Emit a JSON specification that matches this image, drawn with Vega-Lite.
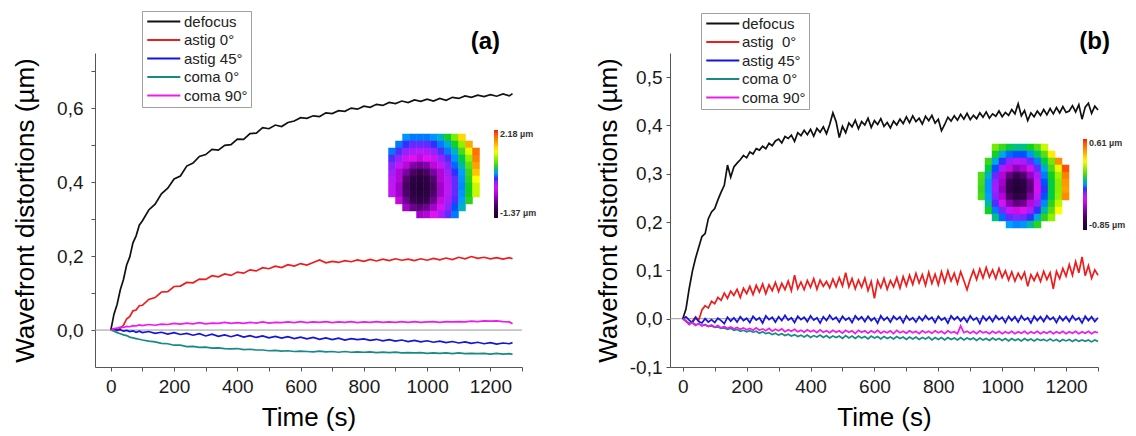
{
"$schema": "https://vega.github.io/schema/vega-lite/v6.json",
"padding": {"left": 12, "top": 10, "right": 2, "bottom": 4},
"spacing": 148,
"bounds": "flush",
"resolve": {"scale": {"stroke": "independent", "fill": "independent"}, "legend": {"stroke": "independent", "fill": "independent"}},
"config": {
  "view": {"stroke": null},
  "font": "Liberation Sans",
  "axis": {"grid": false, "tickSize": 4, "labelFontSize": 19, "titleFontSize": 26, "titleFontWeight": "normal", "labelColor": "#1a1a1a", "titleColor": "#000000", "domainColor": "#555555", "tickColor": "#555555", "labelFont": "Liberation Sans", "titleFont": "Liberation Sans", "labelFlush": false, "labelOverlap": false}
},
"datasets": {
"a": [
{"t":0,"d":0,"a0":0,"a45":0,"c0":0,"c90":0},
{"t":10,"d":0.043,"a0":0.002,"a45":0.003,"c0":-0.003,"c90":0.004},
{"t":20,"d":0.070,"a0":-0.002,"a45":0.000,"c0":-0.007,"c90":0.005},
{"t":30,"d":0.109,"a0":0.005,"a45":0.001,"c0":-0.010,"c90":0.008},
{"t":40,"d":0.137,"a0":0.013,"a45":-0.003,"c0":-0.013,"c90":0.007},
{"t":50,"d":0.176,"a0":0.030,"a45":-0.001,"c0":-0.015,"c90":0.010},
{"t":60,"d":0.198,"a0":0.037,"a45":-0.004,"c0":-0.019,"c90":0.009},
{"t":70,"d":0.236,"a0":0.052,"a45":-0.002,"c0":-0.021,"c90":0.012},
{"t":80,"d":0.255,"a0":0.054,"a45":-0.006,"c0":-0.023,"c90":0.011},
{"t":90,"d":0.284,"a0":0.066,"a45":-0.003,"c0":-0.025,"c90":0.014},
{"t":100,"d":0.296,"a0":0.067,"a45":-0.007,"c0":-0.027,"c90":0.012},
{"t":120,"d":0.325,"a0":0.083,"a45":-0.004,"c0":-0.030,"c90":0.015},
{"t":140,"d":0.341,"a0":0.088,"a45":-0.009,"c0":-0.032,"c90":0.013},
{"t":160,"d":0.369,"a0":0.103,"a45":-0.006,"c0":-0.036,"c90":0.016},
{"t":180,"d":0.384,"a0":0.104,"a45":-0.011,"c0":-0.037,"c90":0.015},
{"t":200,"d":0.409,"a0":0.118,"a45":-0.007,"c0":-0.041,"c90":0.018},
{"t":220,"d":0.417,"a0":0.119,"a45":-0.012,"c0":-0.041,"c90":0.016},
{"t":240,"d":0.444,"a0":0.129,"a45":-0.009,"c0":-0.045,"c90":0.019},
{"t":260,"d":0.452,"a0":0.128,"a45":-0.014,"c0":-0.044,"c90":0.017},
{"t":280,"d":0.470,"a0":0.138,"a45":-0.010,"c0":-0.047,"c90":0.020},
{"t":300,"d":0.475,"a0":0.137,"a45":-0.016,"c0":-0.046,"c90":0.017},
{"t":320,"d":0.489,"a0":0.147,"a45":-0.011,"c0":-0.049,"c90":0.019},
{"t":340,"d":0.487,"a0":0.144,"a45":-0.017,"c0":-0.048,"c90":0.018},
{"t":360,"d":0.500,"a0":0.152,"a45":-0.013,"c0":-0.050,"c90":0.021},
{"t":380,"d":0.502,"a0":0.148,"a45":-0.018,"c0":-0.051,"c90":0.018},
{"t":400,"d":0.517,"a0":0.157,"a45":-0.013,"c0":-0.050,"c90":0.020},
{"t":420,"d":0.516,"a0":0.154,"a45":-0.019,"c0":-0.053,"c90":0.018},
{"t":440,"d":0.532,"a0":0.163,"a45":-0.015,"c0":-0.052,"c90":0.021},
{"t":460,"d":0.533,"a0":0.160,"a45":-0.020,"c0":-0.054,"c90":0.019},
{"t":480,"d":0.548,"a0":0.169,"a45":-0.016,"c0":-0.054,"c90":0.022},
{"t":500,"d":0.545,"a0":0.166,"a45":-0.021,"c0":-0.056,"c90":0.019},
{"t":520,"d":0.555,"a0":0.173,"a45":-0.017,"c0":-0.055,"c90":0.021},
{"t":540,"d":0.551,"a0":0.169,"a45":-0.022,"c0":-0.057,"c90":0.020},
{"t":560,"d":0.562,"a0":0.177,"a45":-0.018,"c0":-0.056,"c90":0.022},
{"t":580,"d":0.566,"a0":0.173,"a45":-0.023,"c0":-0.058,"c90":0.020},
{"t":600,"d":0.575,"a0":0.180,"a45":-0.019,"c0":-0.057,"c90":0.023},
{"t":620,"d":0.573,"a0":0.176,"a45":-0.024,"c0":-0.058,"c90":0.020},
{"t":640,"d":0.580,"a0":0.183,"a45":-0.020,"c0":-0.059,"c90":0.022},
{"t":660,"d":0.578,"a0":0.190,"a45":-0.025,"c0":-0.057,"c90":0.021},
{"t":680,"d":0.588,"a0":0.182,"a45":-0.021,"c0":-0.059,"c90":0.023},
{"t":700,"d":0.586,"a0":0.186,"a45":-0.026,"c0":-0.058,"c90":0.020},
{"t":720,"d":0.594,"a0":0.183,"a45":-0.022,"c0":-0.060,"c90":0.022},
{"t":740,"d":0.592,"a0":0.188,"a45":-0.027,"c0":-0.058,"c90":0.021},
{"t":760,"d":0.601,"a0":0.185,"a45":-0.023,"c0":-0.060,"c90":0.023},
{"t":780,"d":0.598,"a0":0.190,"a45":-0.026,"c0":-0.059,"c90":0.020},
{"t":800,"d":0.606,"a0":0.186,"a45":-0.024,"c0":-0.060,"c90":0.022},
{"t":820,"d":0.603,"a0":0.191,"a45":-0.028,"c0":-0.059,"c90":0.021},
{"t":840,"d":0.611,"a0":0.187,"a45":-0.025,"c0":-0.061,"c90":0.023},
{"t":860,"d":0.608,"a0":0.192,"a45":-0.029,"c0":-0.060,"c90":0.021},
{"t":880,"d":0.616,"a0":0.188,"a45":-0.026,"c0":-0.061,"c90":0.022},
{"t":900,"d":0.613,"a0":0.193,"a45":-0.030,"c0":-0.060,"c90":0.021},
{"t":920,"d":0.620,"a0":0.189,"a45":-0.027,"c0":-0.062,"c90":0.023},
{"t":940,"d":0.616,"a0":0.192,"a45":-0.031,"c0":-0.061,"c90":0.021},
{"t":960,"d":0.623,"a0":0.188,"a45":-0.028,"c0":-0.062,"c90":0.023},
{"t":980,"d":0.619,"a0":0.193,"a45":-0.032,"c0":-0.061,"c90":0.021},
{"t":1000,"d":0.625,"a0":0.189,"a45":-0.029,"c0":-0.063,"c90":0.022},
{"t":1020,"d":0.620,"a0":0.194,"a45":-0.033,"c0":-0.062,"c90":0.023},
{"t":1040,"d":0.627,"a0":0.190,"a45":-0.030,"c0":-0.063,"c90":0.021},
{"t":1060,"d":0.622,"a0":0.195,"a45":-0.034,"c0":-0.062,"c90":0.023},
{"t":1080,"d":0.630,"a0":0.191,"a45":-0.031,"c0":-0.064,"c90":0.022},
{"t":1100,"d":0.627,"a0":0.197,"a45":-0.035,"c0":-0.062,"c90":0.023},
{"t":1120,"d":0.634,"a0":0.193,"a45":-0.032,"c0":-0.064,"c90":0.022},
{"t":1140,"d":0.630,"a0":0.199,"a45":-0.036,"c0":-0.063,"c90":0.024},
{"t":1160,"d":0.636,"a0":0.194,"a45":-0.033,"c0":-0.064,"c90":0.023},
{"t":1180,"d":0.632,"a0":0.197,"a45":-0.037,"c0":-0.063,"c90":0.025},
{"t":1200,"d":0.637,"a0":0.193,"a45":-0.034,"c0":-0.065,"c90":0.024},
{"t":1220,"d":0.633,"a0":0.196,"a45":-0.038,"c0":-0.063,"c90":0.025},
{"t":1240,"d":0.639,"a0":0.192,"a45":-0.035,"c0":-0.065,"c90":0.023},
{"t":1260,"d":0.634,"a0":0.196,"a45":-0.037,"c0":-0.064,"c90":0.022},
{"t":1270,"d":0.640,"a0":0.193,"a45":-0.034,"c0":-0.066,"c90":0.017}
],
"b": [
{"t":0,"d":0,"a0":0,"a45":0,"c0":0,"c90":0},
{"t":10,"d":0.020,"a0":-0.004,"a45":0.004,"c0":-0.005,"c90":-0.006},
{"t":20,"d":0.062,"a0":-0.012,"a45":-0.003,"c0":-0.009,"c90":-0.011},
{"t":30,"d":0.098,"a0":-0.006,"a45":-0.008,"c0":-0.008,"c90":-0.009},
{"t":40,"d":0.125,"a0":0.004,"a45":0.002,"c0":-0.012,"c90":-0.014},
{"t":50,"d":0.148,"a0":-0.003,"a45":-0.006,"c0":-0.011,"c90":-0.010},
{"t":60,"d":0.170,"a0":0.018,"a45":-0.009,"c0":-0.014,"c90":-0.015},
{"t":70,"d":0.176,"a0":0.027,"a45":0.000,"c0":-0.013,"c90":-0.012},
{"t":80,"d":0.207,"a0":0.022,"a45":-0.007,"c0":-0.016,"c90":-0.016},
{"t":90,"d":0.221,"a0":0.036,"a45":-0.002,"c0":-0.015,"c90":-0.013},
{"t":100,"d":0.228,"a0":0.031,"a45":-0.008,"c0":-0.018,"c90":-0.017},
{"t":110,"d":0.246,"a0":0.044,"a45":0.001,"c0":-0.017,"c90":-0.014},
{"t":120,"d":0.262,"a0":0.038,"a45":-0.004,"c0":-0.020,"c90":-0.019},
{"t":130,"d":0.276,"a0":0.053,"a45":-0.010,"c0":-0.019,"c90":-0.016},
{"t":140,"d":0.318,"a0":0.042,"a45":0.003,"c0":-0.022,"c90":-0.020},
{"t":150,"d":0.293,"a0":0.057,"a45":-0.005,"c0":-0.020,"c90":-0.017},
{"t":160,"d":0.314,"a0":0.048,"a45":0.002,"c0":-0.024,"c90":-0.021},
{"t":170,"d":0.322,"a0":0.061,"a45":-0.007,"c0":-0.022,"c90":-0.018},
{"t":180,"d":0.329,"a0":0.044,"a45":0.004,"c0":-0.026,"c90":-0.022},
{"t":190,"d":0.338,"a0":0.063,"a45":-0.004,"c0":-0.024,"c90":-0.019},
{"t":200,"d":0.333,"a0":0.052,"a45":0.001,"c0":-0.027,"c90":-0.023},
{"t":210,"d":0.345,"a0":0.067,"a45":-0.008,"c0":-0.025,"c90":-0.020},
{"t":220,"d":0.341,"a0":0.050,"a45":0.005,"c0":-0.028,"c90":-0.024},
{"t":230,"d":0.352,"a0":0.069,"a45":-0.003,"c0":-0.026,"c90":-0.019},
{"t":240,"d":0.349,"a0":0.055,"a45":0.002,"c0":-0.030,"c90":-0.024},
{"t":250,"d":0.357,"a0":0.072,"a45":-0.009,"c0":-0.027,"c90":-0.021},
{"t":260,"d":0.352,"a0":0.052,"a45":0.006,"c0":-0.031,"c90":-0.025},
{"t":270,"d":0.363,"a0":0.070,"a45":-0.002,"c0":-0.029,"c90":-0.020},
{"t":280,"d":0.358,"a0":0.058,"a45":0.003,"c0":-0.033,"c90":-0.026},
{"t":290,"d":0.368,"a0":0.075,"a45":-0.007,"c0":-0.030,"c90":-0.022},
{"t":300,"d":0.372,"a0":0.056,"a45":0.004,"c0":-0.034,"c90":-0.025},
{"t":310,"d":0.364,"a0":0.073,"a45":-0.004,"c0":-0.031,"c90":-0.021},
{"t":320,"d":0.377,"a0":0.060,"a45":0.007,"c0":-0.035,"c90":-0.027},
{"t":330,"d":0.373,"a0":0.078,"a45":-0.003,"c0":-0.032,"c90":-0.023},
{"t":340,"d":0.380,"a0":0.058,"a45":0.002,"c0":-0.036,"c90":-0.026},
{"t":350,"d":0.367,"a0":0.090,"a45":-0.008,"c0":-0.033,"c90":-0.022},
{"t":360,"d":0.385,"a0":0.062,"a45":0.005,"c0":-0.037,"c90":-0.027},
{"t":370,"d":0.379,"a0":0.076,"a45":-0.002,"c0":-0.034,"c90":-0.024},
{"t":380,"d":0.390,"a0":0.060,"a45":0.003,"c0":-0.038,"c90":-0.028},
{"t":390,"d":0.381,"a0":0.079,"a45":-0.006,"c0":-0.034,"c90":-0.023},
{"t":400,"d":0.392,"a0":0.065,"a45":0.006,"c0":-0.039,"c90":-0.027},
{"t":410,"d":0.378,"a0":0.083,"a45":-0.003,"c0":-0.035,"c90":-0.024},
{"t":420,"d":0.394,"a0":0.061,"a45":0.002,"c0":-0.038,"c90":-0.029},
{"t":430,"d":0.386,"a0":0.080,"a45":-0.009,"c0":-0.034,"c90":-0.023},
{"t":440,"d":0.397,"a0":0.067,"a45":0.004,"c0":-0.039,"c90":-0.028},
{"t":450,"d":0.383,"a0":0.077,"a45":-0.004,"c0":-0.035,"c90":-0.025},
{"t":460,"d":0.402,"a0":0.064,"a45":0.007,"c0":-0.040,"c90":-0.029},
{"t":470,"d":0.426,"a0":0.082,"a45":-0.002,"c0":-0.036,"c90":-0.024},
{"t":480,"d":0.408,"a0":0.066,"a45":0.003,"c0":-0.039,"c90":-0.028},
{"t":490,"d":0.375,"a0":0.085,"a45":-0.007,"c0":-0.036,"c90":-0.025},
{"t":500,"d":0.398,"a0":0.068,"a45":0.005,"c0":-0.041,"c90":-0.030},
{"t":510,"d":0.385,"a0":0.095,"a45":-0.003,"c0":-0.035,"c90":-0.024},
{"t":520,"d":0.405,"a0":0.066,"a45":0.002,"c0":-0.040,"c90":-0.028},
{"t":530,"d":0.397,"a0":0.083,"a45":-0.008,"c0":-0.036,"c90":-0.025},
{"t":540,"d":0.411,"a0":0.062,"a45":0.006,"c0":-0.041,"c90":-0.031},
{"t":550,"d":0.393,"a0":0.080,"a45":-0.002,"c0":-0.036,"c90":-0.024},
{"t":560,"d":0.408,"a0":0.065,"a45":0.004,"c0":-0.040,"c90":-0.028},
{"t":570,"d":0.401,"a0":0.084,"a45":-0.006,"c0":-0.037,"c90":-0.025},
{"t":580,"d":0.415,"a0":0.058,"a45":0.005,"c0":-0.042,"c90":-0.030},
{"t":590,"d":0.396,"a0":0.077,"a45":-0.004,"c0":-0.036,"c90":-0.025},
{"t":600,"d":0.410,"a0":0.042,"a45":0.002,"c0":-0.040,"c90":-0.029},
{"t":610,"d":0.402,"a0":0.079,"a45":-0.009,"c0":-0.037,"c90":-0.024},
{"t":620,"d":0.414,"a0":0.064,"a45":0.006,"c0":-0.042,"c90":-0.030},
{"t":630,"d":0.398,"a0":0.083,"a45":-0.003,"c0":-0.037,"c90":-0.026},
{"t":640,"d":0.406,"a0":0.061,"a45":0.003,"c0":-0.041,"c90":-0.029},
{"t":650,"d":0.395,"a0":0.079,"a45":-0.007,"c0":-0.038,"c90":-0.025},
{"t":660,"d":0.409,"a0":0.066,"a45":0.005,"c0":-0.042,"c90":-0.031},
{"t":670,"d":0.401,"a0":0.085,"a45":-0.002,"c0":-0.037,"c90":-0.024},
{"t":680,"d":0.413,"a0":0.063,"a45":0.004,"c0":-0.041,"c90":-0.029},
{"t":690,"d":0.404,"a0":0.087,"a45":-0.008,"c0":-0.038,"c90":-0.026},
{"t":700,"d":0.418,"a0":0.068,"a45":0.006,"c0":-0.043,"c90":-0.030},
{"t":710,"d":0.406,"a0":0.090,"a45":-0.003,"c0":-0.038,"c90":-0.025},
{"t":720,"d":0.420,"a0":0.071,"a45":0.002,"c0":-0.042,"c90":-0.029},
{"t":730,"d":0.408,"a0":0.094,"a45":-0.007,"c0":-0.038,"c90":-0.026},
{"t":740,"d":0.415,"a0":0.074,"a45":0.004,"c0":-0.043,"c90":-0.031},
{"t":750,"d":0.403,"a0":0.091,"a45":-0.004,"c0":-0.039,"c90":-0.025},
{"t":760,"d":0.419,"a0":0.069,"a45":0.006,"c0":-0.042,"c90":-0.029},
{"t":770,"d":0.410,"a0":0.096,"a45":-0.002,"c0":-0.038,"c90":-0.026},
{"t":780,"d":0.421,"a0":0.073,"a45":0.003,"c0":-0.044,"c90":-0.030},
{"t":790,"d":0.405,"a0":0.092,"a45":-0.008,"c0":-0.039,"c90":-0.025},
{"t":800,"d":0.413,"a0":0.070,"a45":0.005,"c0":-0.043,"c90":-0.029},
{"t":810,"d":0.389,"a0":0.097,"a45":-0.003,"c0":-0.039,"c90":-0.026},
{"t":820,"d":0.402,"a0":0.075,"a45":0.002,"c0":-0.044,"c90":-0.031},
{"t":830,"d":0.417,"a0":0.099,"a45":-0.009,"c0":-0.039,"c90":-0.025},
{"t":840,"d":0.409,"a0":0.078,"a45":0.006,"c0":-0.043,"c90":-0.029},
{"t":850,"d":0.420,"a0":0.094,"a45":-0.002,"c0":-0.040,"c90":-0.027},
{"t":860,"d":0.411,"a0":0.073,"a45":0.004,"c0":-0.044,"c90":-0.031},
{"t":870,"d":0.423,"a0":0.097,"a45":-0.005,"c0":-0.039,"c90":-0.015},
{"t":880,"d":0.413,"a0":0.079,"a45":0.003,"c0":-0.044,"c90":-0.029},
{"t":890,"d":0.425,"a0":0.060,"a45":-0.007,"c0":-0.040,"c90":-0.026},
{"t":900,"d":0.412,"a0":0.082,"a45":0.006,"c0":-0.043,"c90":-0.030},
{"t":910,"d":0.421,"a0":0.100,"a45":-0.003,"c0":-0.040,"c90":-0.026},
{"t":920,"d":0.414,"a0":0.081,"a45":0.002,"c0":-0.045,"c90":-0.031},
{"t":930,"d":0.426,"a0":0.103,"a45":-0.010,"c0":-0.040,"c90":-0.025},
{"t":940,"d":0.417,"a0":0.084,"a45":0.005,"c0":-0.044,"c90":-0.029},
{"t":950,"d":0.428,"a0":0.106,"a45":-0.004,"c0":-0.041,"c90":-0.027},
{"t":960,"d":0.415,"a0":0.086,"a45":0.004,"c0":-0.045,"c90":-0.031},
{"t":970,"d":0.424,"a0":0.101,"a45":-0.006,"c0":-0.040,"c90":-0.026},
{"t":980,"d":0.419,"a0":0.083,"a45":0.006,"c0":-0.044,"c90":-0.030},
{"t":990,"d":0.430,"a0":0.104,"a45":-0.002,"c0":-0.041,"c90":-0.026},
{"t":1000,"d":0.418,"a0":0.085,"a45":0.003,"c0":-0.045,"c90":-0.031},
{"t":1010,"d":0.427,"a0":0.099,"a45":-0.008,"c0":-0.041,"c90":-0.027},
{"t":1020,"d":0.421,"a0":0.080,"a45":0.005,"c0":-0.046,"c90":-0.030},
{"t":1030,"d":0.433,"a0":0.097,"a45":-0.004,"c0":-0.041,"c90":-0.026},
{"t":1040,"d":0.424,"a0":0.078,"a45":0.004,"c0":-0.045,"c90":-0.031},
{"t":1050,"d":0.445,"a0":0.094,"a45":-0.007,"c0":-0.042,"c90":-0.027},
{"t":1060,"d":0.420,"a0":0.082,"a45":0.006,"c0":-0.046,"c90":-0.030},
{"t":1070,"d":0.431,"a0":0.096,"a45":-0.003,"c0":-0.041,"c90":-0.026},
{"t":1080,"d":0.410,"a0":0.067,"a45":0.002,"c0":-0.045,"c90":-0.031},
{"t":1090,"d":0.426,"a0":0.091,"a45":-0.009,"c0":-0.042,"c90":-0.027},
{"t":1100,"d":0.418,"a0":0.079,"a45":0.005,"c0":-0.046,"c90":-0.030},
{"t":1110,"d":0.430,"a0":0.094,"a45":-0.004,"c0":-0.042,"c90":-0.026},
{"t":1120,"d":0.421,"a0":0.077,"a45":0.004,"c0":-0.045,"c90":-0.031},
{"t":1130,"d":0.433,"a0":0.098,"a45":-0.006,"c0":-0.043,"c90":-0.027},
{"t":1140,"d":0.422,"a0":0.081,"a45":0.006,"c0":-0.046,"c90":-0.030},
{"t":1150,"d":0.435,"a0":0.095,"a45":-0.002,"c0":-0.042,"c90":-0.026},
{"t":1160,"d":0.424,"a0":0.062,"a45":0.003,"c0":-0.046,"c90":-0.031},
{"t":1170,"d":0.437,"a0":0.098,"a45":-0.008,"c0":-0.043,"c90":-0.027},
{"t":1180,"d":0.426,"a0":0.083,"a45":0.005,"c0":-0.047,"c90":-0.030},
{"t":1190,"d":0.439,"a0":0.104,"a45":-0.004,"c0":-0.043,"c90":-0.026},
{"t":1200,"d":0.427,"a0":0.088,"a45":0.004,"c0":-0.046,"c90":-0.031},
{"t":1210,"d":0.430,"a0":0.112,"a45":-0.006,"c0":-0.043,"c90":-0.027},
{"t":1220,"d":0.441,"a0":0.090,"a45":0.006,"c0":-0.047,"c90":-0.030},
{"t":1230,"d":0.428,"a0":0.118,"a45":-0.003,"c0":-0.043,"c90":-0.026},
{"t":1240,"d":0.443,"a0":0.095,"a45":0.002,"c0":-0.047,"c90":-0.031},
{"t":1250,"d":0.413,"a0":0.128,"a45":-0.009,"c0":-0.044,"c90":-0.027},
{"t":1260,"d":0.438,"a0":0.089,"a45":0.005,"c0":-0.047,"c90":-0.030},
{"t":1270,"d":0.446,"a0":0.110,"a45":-0.004,"c0":-0.044,"c90":-0.026},
{"t":1280,"d":0.425,"a0":0.084,"a45":0.004,"c0":-0.048,"c90":-0.031},
{"t":1290,"d":0.440,"a0":0.101,"a45":-0.006,"c0":-0.044,"c90":-0.027},
{"t":1300,"d":0.432,"a0":0.090,"a45":0.002,"c0":-0.047,"c90":-0.029}
],
"ha": [
{"x":2,"y":0,"f":0.50},{"x":3,"y":0,"f":0.48},{"x":4,"y":0,"f":0.48},{"x":5,"y":0,"f":0.48},{"x":6,"y":0,"f":0.50},{"x":7,"y":0,"f":0.53},{"x":8,"y":0,"f":0.58},{"x":9,"y":0,"f":0.66},{"x":10,"y":0,"f":0.80},
{"x":1,"y":1,"f":0.48},{"x":2,"y":1,"f":0.45},{"x":3,"y":1,"f":0.43},{"x":4,"y":1,"f":0.43},{"x":5,"y":1,"f":0.43},{"x":6,"y":1,"f":0.45},{"x":7,"y":1,"f":0.48},{"x":8,"y":1,"f":0.52},{"x":9,"y":1,"f":0.58},{"x":10,"y":1,"f":0.68},{"x":11,"y":1,"f":0.85},
{"x":0,"y":2,"f":0.48},{"x":1,"y":2,"f":0.44},{"x":2,"y":2,"f":0.40},{"x":3,"y":2,"f":0.38},{"x":4,"y":2,"f":0.37},{"x":5,"y":2,"f":0.38},{"x":6,"y":2,"f":0.40},{"x":7,"y":2,"f":0.44},{"x":8,"y":2,"f":0.48},{"x":9,"y":2,"f":0.53},{"x":10,"y":2,"f":0.61},{"x":11,"y":2,"f":0.74},{"x":12,"y":2,"f":0.92},
{"x":0,"y":3,"f":0.44},{"x":1,"y":3,"f":0.40},{"x":2,"y":3,"f":0.35},{"x":3,"y":3,"f":0.33},{"x":4,"y":3,"f":0.30},{"x":5,"y":3,"f":0.33},{"x":6,"y":3,"f":0.35},{"x":7,"y":3,"f":0.40},{"x":8,"y":3,"f":0.44},{"x":9,"y":3,"f":0.50},{"x":10,"y":3,"f":0.57},{"x":11,"y":3,"f":0.68},{"x":12,"y":3,"f":0.90},
{"x":0,"y":4,"f":0.41},{"x":1,"y":4,"f":0.36},{"x":2,"y":4,"f":0.29},{"x":3,"y":4,"f":0.22},{"x":4,"y":4,"f":0.20},{"x":5,"y":4,"f":0.22},{"x":6,"y":4,"f":0.29},{"x":7,"y":4,"f":0.36},{"x":8,"y":4,"f":0.41},{"x":9,"y":4,"f":0.47},{"x":10,"y":4,"f":0.54},{"x":11,"y":4,"f":0.63},{"x":12,"y":4,"f":0.86},
{"x":0,"y":5,"f":0.39},{"x":1,"y":5,"f":0.28},{"x":2,"y":5,"f":0.21},{"x":3,"y":5,"f":0.14},{"x":4,"y":5,"f":0.12},{"x":5,"y":5,"f":0.14},{"x":6,"y":5,"f":0.21},{"x":7,"y":5,"f":0.28},{"x":8,"y":5,"f":0.39},{"x":9,"y":5,"f":0.45},{"x":10,"y":5,"f":0.51},{"x":11,"y":5,"f":0.60},{"x":12,"y":5,"f":0.82},
{"x":0,"y":6,"f":0.37},{"x":1,"y":6,"f":0.28},{"x":2,"y":6,"f":0.16},{"x":3,"y":6,"f":0.08},{"x":4,"y":6,"f":0.05},{"x":5,"y":6,"f":0.08},{"x":6,"y":6,"f":0.16},{"x":7,"y":6,"f":0.28},{"x":8,"y":6,"f":0.37},{"x":9,"y":6,"f":0.43},{"x":10,"y":6,"f":0.50},{"x":11,"y":6,"f":0.59},{"x":12,"y":6,"f":0.76},
{"x":0,"y":7,"f":0.36},{"x":1,"y":7,"f":0.26},{"x":2,"y":7,"f":0.14},{"x":3,"y":7,"f":0.06},{"x":4,"y":7,"f":0.01},{"x":5,"y":7,"f":0.06},{"x":6,"y":7,"f":0.14},{"x":7,"y":7,"f":0.26},{"x":8,"y":7,"f":0.36},{"x":9,"y":7,"f":0.43},{"x":10,"y":7,"f":0.49},{"x":11,"y":7,"f":0.58},{"x":12,"y":7,"f":0.72},
{"x":0,"y":8,"f":0.36},{"x":1,"y":8,"f":0.26},{"x":2,"y":8,"f":0.15},{"x":3,"y":8,"f":0.07},{"x":4,"y":8,"f":0.04},{"x":5,"y":8,"f":0.07},{"x":6,"y":8,"f":0.15},{"x":7,"y":8,"f":0.26},{"x":8,"y":8,"f":0.36},{"x":9,"y":8,"f":0.43},{"x":10,"y":8,"f":0.50},{"x":11,"y":8,"f":0.58},{"x":12,"y":8,"f":0.72},
{"x":1,"y":9,"f":0.30},{"x":2,"y":9,"f":0.19},{"x":3,"y":9,"f":0.11},{"x":4,"y":9,"f":0.08},{"x":5,"y":9,"f":0.11},{"x":6,"y":9,"f":0.19},{"x":7,"y":9,"f":0.30},{"x":8,"y":9,"f":0.38},{"x":9,"y":9,"f":0.44},{"x":10,"y":9,"f":0.51},{"x":11,"y":9,"f":0.59},
{"x":2,"y":10,"f":0.26},{"x":3,"y":10,"f":0.19},{"x":4,"y":10,"f":0.16},{"x":5,"y":10,"f":0.19},{"x":6,"y":10,"f":0.26},{"x":7,"y":10,"f":0.34},{"x":8,"y":10,"f":0.40},{"x":9,"y":10,"f":0.46},{"x":10,"y":10,"f":0.53},
{"x":4,"y":11,"f":0.26},{"x":5,"y":11,"f":0.28},{"x":6,"y":11,"f":0.33},{"x":7,"y":11,"f":0.38},{"x":8,"y":11,"f":0.43},{"x":9,"y":11,"f":0.48}
],
"hb": [
{"x":2,"y":0,"f":0.65},{"x":3,"y":0,"f":0.60},{"x":4,"y":0,"f":0.57},{"x":5,"y":0,"f":0.55},{"x":6,"y":0,"f":0.55},{"x":7,"y":0,"f":0.58},{"x":8,"y":0,"f":0.62},{"x":9,"y":0,"f":0.72},
{"x":2,"y":1,"f":0.58},{"x":3,"y":1,"f":0.52},{"x":4,"y":1,"f":0.47},{"x":5,"y":1,"f":0.46},{"x":6,"y":1,"f":0.46},{"x":7,"y":1,"f":0.50},{"x":8,"y":1,"f":0.56},{"x":9,"y":1,"f":0.62},{"x":10,"y":1,"f":0.78},
{"x":1,"y":2,"f":0.60},{"x":2,"y":2,"f":0.52},{"x":3,"y":2,"f":0.45},{"x":4,"y":2,"f":0.40},{"x":5,"y":2,"f":0.37},{"x":6,"y":2,"f":0.38},{"x":7,"y":2,"f":0.43},{"x":8,"y":2,"f":0.48},{"x":9,"y":2,"f":0.57},{"x":10,"y":2,"f":0.65},{"x":11,"y":2,"f":0.88},
{"x":1,"y":3,"f":0.57},{"x":2,"y":3,"f":0.46},{"x":3,"y":3,"f":0.38},{"x":4,"y":3,"f":0.30},{"x":5,"y":3,"f":0.24},{"x":6,"y":3,"f":0.27},{"x":7,"y":3,"f":0.35},{"x":8,"y":3,"f":0.43},{"x":9,"y":3,"f":0.52},{"x":10,"y":3,"f":0.61},{"x":11,"y":3,"f":0.74},{"x":12,"y":3,"f":0.96},
{"x":0,"y":4,"f":0.62},{"x":1,"y":4,"f":0.53},{"x":2,"y":4,"f":0.43},{"x":3,"y":4,"f":0.28},{"x":4,"y":4,"f":0.18},{"x":5,"y":4,"f":0.12},{"x":6,"y":4,"f":0.15},{"x":7,"y":4,"f":0.25},{"x":8,"y":4,"f":0.38},{"x":9,"y":4,"f":0.48},{"x":10,"y":4,"f":0.58},{"x":11,"y":4,"f":0.69},{"x":12,"y":4,"f":0.90},
{"x":0,"y":5,"f":0.61},{"x":1,"y":5,"f":0.50},{"x":2,"y":5,"f":0.40},{"x":3,"y":5,"f":0.26},{"x":4,"y":5,"f":0.11},{"x":5,"y":5,"f":0.05},{"x":6,"y":5,"f":0.07},{"x":7,"y":5,"f":0.18},{"x":8,"y":5,"f":0.35},{"x":9,"y":5,"f":0.46},{"x":10,"y":5,"f":0.57},{"x":11,"y":5,"f":0.67},{"x":12,"y":5,"f":0.87},
{"x":0,"y":6,"f":0.60},{"x":1,"y":6,"f":0.50},{"x":2,"y":6,"f":0.39},{"x":3,"y":6,"f":0.24},{"x":4,"y":6,"f":0.09},{"x":5,"y":6,"f":0.02},{"x":6,"y":6,"f":0.06},{"x":7,"y":6,"f":0.17},{"x":8,"y":6,"f":0.34},{"x":9,"y":6,"f":0.45},{"x":10,"y":6,"f":0.57},{"x":11,"y":6,"f":0.67},{"x":12,"y":6,"f":0.86},
{"x":0,"y":7,"f":0.61},{"x":1,"y":7,"f":0.51},{"x":2,"y":7,"f":0.41},{"x":3,"y":7,"f":0.28},{"x":4,"y":7,"f":0.14},{"x":5,"y":7,"f":0.07},{"x":6,"y":7,"f":0.09},{"x":7,"y":7,"f":0.21},{"x":8,"y":7,"f":0.36},{"x":9,"y":7,"f":0.46},{"x":10,"y":7,"f":0.57},{"x":11,"y":7,"f":0.68},{"x":12,"y":7,"f":0.88},
{"x":1,"y":8,"f":0.54},{"x":2,"y":8,"f":0.44},{"x":3,"y":8,"f":0.34},{"x":4,"y":8,"f":0.23},{"x":5,"y":8,"f":0.17},{"x":6,"y":8,"f":0.19},{"x":7,"y":8,"f":0.29},{"x":8,"y":8,"f":0.40},{"x":9,"y":8,"f":0.49},{"x":10,"y":8,"f":0.59},{"x":11,"y":8,"f":0.71},
{"x":1,"y":9,"f":0.58},{"x":2,"y":9,"f":0.48},{"x":3,"y":9,"f":0.42},{"x":4,"y":9,"f":0.35},{"x":5,"y":9,"f":0.31},{"x":6,"y":9,"f":0.33},{"x":7,"y":9,"f":0.38},{"x":8,"y":9,"f":0.45},{"x":9,"y":9,"f":0.54},{"x":10,"y":9,"f":0.62},{"x":11,"y":9,"f":0.76},
{"x":2,"y":10,"f":0.55},{"x":3,"y":10,"f":0.47},{"x":4,"y":10,"f":0.43},{"x":5,"y":10,"f":0.41},{"x":6,"y":10,"f":0.42},{"x":7,"y":10,"f":0.45},{"x":8,"y":10,"f":0.52},{"x":9,"y":10,"f":0.59},{"x":10,"y":10,"f":0.68},
{"x":4,"y":11,"f":0.51},{"x":5,"y":11,"f":0.49},{"x":6,"y":11,"f":0.50},{"x":7,"y":11,"f":0.54},{"x":8,"y":11,"f":0.59}
]
},
"hconcat": [
{
  "width": 427, "height": 314,
  "title": {"text": "(a)", "anchor": "end", "frame": "group", "fontSize": 24, "fontWeight": "bold", "font": "Liberation Sans", "color": "#000000", "dx": -22, "dy": 47, "offset": 4},
  "layer": [
    {"layer": [
      {"data": {"values": [{}]}, "mark": {"type": "rule", "color": "#9a9a9a", "strokeWidth": 1}, "encoding": {"y": {"datum": 0, "type": "quantitative"}}},
      {"data": {"name": "a"},
       "transform": [{"fold": ["d", "a0", "a45", "c0", "c90"], "as": ["k", "v"]}],
       "mark": {"type": "line", "strokeWidth": 1.7},
       "encoding": {
         "x": {"field": "t", "type": "quantitative", "scale": {"domain": [-50, 1300], "nice": false, "zero": false},
               "axis": {"title": "Time (s)", "values": [0,100,200,300,400,500,600,700,800,900,1000,1100,1200,1300], "format": "d", "labelExpr": "datum.value % 200 === 0 && datum.value <= 1200 ? datum.label : ''", "labelPadding": 6, "titlePadding": 8}},
         "y": {"field": "v", "type": "quantitative", "scale": {"domain": [-0.1, 0.75], "nice": false, "zero": false},
               "axis": {"title": "Wavefront distortions (µm)", "values": [0,0.1,0.2,0.3,0.4,0.5,0.6,0.7], "labelExpr": "round(datum.value*10) % 2 === 0 ? replace(format(datum.value,'.1f'),'.',',') : ''", "labelPadding": 8, "titlePadding": 18}},
         "stroke": {"field": "k", "type": "nominal",
               "scale": {"domain": ["d", "a0", "a45", "c0", "c90"], "range": ["#111111", "#ee1c1c", "#1414dd", "#188a86", "#ee1aee"]},
               "legend": {"orient": "none", "legendX": 47, "legendY": -42, "title": null, "labelExpr": "datum.label === 'd' ? 'defocus' : datum.label === 'a0' ? 'astig 0°' : datum.label === 'a45' ? 'astig 45°' : datum.label === 'c0' ? 'coma 0°' : 'coma 90°'", "symbolType": "M-1,0H5.3", "symbolSize": 110, "symbolStrokeWidth": 2, "labelFontSize": 15, "labelFont": "Liberation Sans", "labelColor": "#222222", "strokeColor": "#a0a0a0", "fillColor": "#ffffff", "padding": 3, "rowPadding": 2.5, "labelOffset": 24}}
       }}
    ]},
    {"data": {"name": "ha"},
     "mark": {"type": "square", "size": 56, "filled": true, "opacity": 1, "strokeWidth": 0},
     "encoding": {
       "x": {"field": "x", "type": "quantitative", "scale": {"domain": [-42.43, 18.57], "nice": false, "zero": false}, "axis": null},
       "y": {"field": "y", "type": "quantitative", "scale": {"domain": [-12.07, 32.79], "nice": false, "zero": false, "reverse": true}, "axis": null},
       "fill": {"field": "f", "type": "quantitative",
         "scale": {"domain": [0, 0.12, 0.25, 0.33, 0.45, 0.58, 0.68, 0.76, 0.88, 1], "range": ["#000000", "#3a0050", "#9a00c8", "#e010f0", "#3030ff", "#10d020", "#90f000", "#ffff00", "#ff8c00", "#ff1a00"]},
         "legend": {"orient": "none", "legendX": 399, "legendY": 77, "direction": "vertical", "gradientLength": 88, "gradientThickness": 4, "gradientStrokeWidth": 0, "values": [0, 1], "labelExpr": "datum.value < 0.5 ? '-1.37 µm' : '2.18 µm'", "labelFontSize": 9, "labelFontWeight": "bold", "labelColor": "#333333", "labelOffset": 2, "labelOverlap": false, "title": null}}
     }}
  ],
  "resolve": {"scale": {"x": "independent", "y": "independent"}}
},
{
  "width": 428, "height": 314,
  "title": {"text": "(b)", "anchor": "end", "frame": "group", "fontSize": 24, "fontWeight": "bold", "font": "Liberation Sans", "color": "#000000", "dx": 12, "dy": 45, "offset": 4},
  "layer": [
    {"layer": [
      {"data": {"values": [{}]}, "mark": {"type": "rule", "color": "#9a9a9a", "strokeWidth": 1}, "encoding": {"y": {"datum": 0, "type": "quantitative"}}},
      {"data": {"name": "b"},
       "transform": [{"fold": ["d", "a0", "a45", "c0", "c90"], "as": ["k", "v"]}],
       "mark": {"type": "line", "strokeWidth": 1.7},
       "encoding": {
         "x": {"field": "t", "type": "quantitative", "scale": {"domain": [-40, 1300], "nice": false, "zero": false},
               "axis": {"title": "Time (s)", "values": [0,100,200,300,400,500,600,700,800,900,1000,1100,1200,1300], "format": "d", "labelExpr": "datum.value % 200 === 0 && datum.value <= 1200 ? datum.label : ''", "labelPadding": 6, "titlePadding": 8}},
         "y": {"field": "v", "type": "quantitative", "scale": {"domain": [-0.1, 0.55], "nice": false, "zero": false},
               "axis": {"title": "Wavefront distortions (µm)", "values": [-0.1,-0.05,0,0.05,0.1,0.15,0.2,0.25,0.3,0.35,0.4,0.45,0.5,0.55], "labelExpr": "round(datum.value*20) % 2 === 0 ? replace(replace(format(datum.value,'.1f'),'.',','),'−','-') : ''", "labelPadding": 4, "titlePadding": 8}},
         "stroke": {"field": "k", "type": "nominal",
               "scale": {"domain": ["d", "a0", "a45", "c0", "c90"], "range": ["#111111", "#ee1c1c", "#1414dd", "#188a86", "#ee1aee"]},
               "legend": {"orient": "none", "legendX": 31, "legendY": -40, "title": null, "labelExpr": "datum.label === 'd' ? '\u00a0defocus' : datum.label === 'a0' ? 'astig\u00a0 0°' : datum.label === 'a45' ? 'astig 45°' : datum.label === 'c0' ? 'coma 0°' : 'coma 90°'", "symbolType": "M-1,0H5.3", "symbolSize": 110, "symbolStrokeWidth": 2, "labelFontSize": 15, "labelFont": "Liberation Sans", "labelColor": "#222222", "strokeColor": "#a0a0a0", "fillColor": "#ffffff", "padding": 3, "rowPadding": 2.5, "labelOffset": 23}}
       }}
    ]},
    {"data": {"name": "hb"},
     "mark": {"type": "square", "size": 56, "filled": true, "opacity": 1, "strokeWidth": 0},
     "encoding": {
       "x": {"field": "x", "type": "quantitative", "scale": {"domain": [-44.5, 16.64], "nice": false, "zero": false}, "axis": null},
       "y": {"field": "y", "type": "quantitative", "scale": {"domain": [-13.5, 31.36], "nice": false, "zero": false, "reverse": true}, "axis": null},
       "fill": {"field": "f", "type": "quantitative",
         "scale": {"domain": [0, 0.12, 0.25, 0.33, 0.45, 0.58, 0.68, 0.76, 0.88, 1], "range": ["#000000", "#3a0050", "#9a00c8", "#e010f0", "#3030ff", "#10d020", "#90f000", "#ffff00", "#ff8c00", "#ff1a00"]},
         "legend": {"orient": "none", "legendX": 413, "legendY": 86, "direction": "vertical", "gradientLength": 91, "gradientThickness": 4, "gradientStrokeWidth": 0, "values": [0, 1], "labelExpr": "datum.value < 0.5 ? '-0.85 µm' : '0.61 µm'", "labelFontSize": 9, "labelFontWeight": "bold", "labelColor": "#333333", "labelOffset": 2, "labelOverlap": false, "title": null}}
     }}
  ],
  "resolve": {"scale": {"x": "independent", "y": "independent"}}
}
]
}
